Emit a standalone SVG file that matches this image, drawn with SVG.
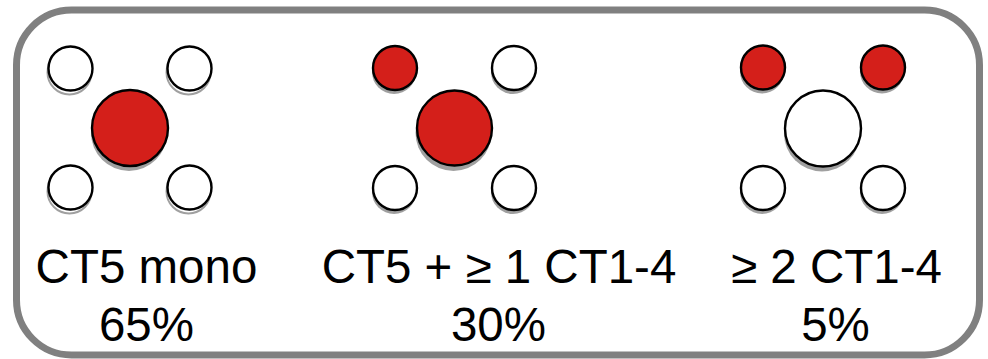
<svg xmlns="http://www.w3.org/2000/svg" width="988" height="359" viewBox="0 0 988 359">
<style>
.frame{fill:#fff;stroke:#808080;stroke-width:7}
.sh{fill:#a0a0a0}
.shr{fill:none;stroke:#a0a0a0;stroke-width:2}
.c{stroke:#000;stroke-width:2.4}
.r{fill:#d41f1a}
.w{fill:#fff}
.t{font-family:"Liberation Sans",Arial,sans-serif;font-size:47.5px;fill:#000;text-anchor:middle}
</style>
<defs>
<g id="sm"><circle class="sh" cx="-1" cy="4" r="22"/></g>
<g id="smr"><circle class="shr" cx="-1" cy="4" r="22"/></g>
<g id="bg"><circle class="sh" cx="-1" cy="5" r="38"/></g>
</defs>
<rect width="988" height="359" fill="#fff"/>
<rect class="frame" x="16.5" y="10" width="963" height="345" rx="55" ry="55"/>
<g id="group1">
<use href="#smr" x="70.5" y="68.5"/><circle class="c w" cx="70.5" cy="68.5" r="22"/>
<use href="#smr" x="189.5" y="68.5"/><circle class="c w" cx="189.5" cy="68.5" r="22"/>
<use href="#smr" x="70.5" y="187.5"/><circle class="c w" cx="70.5" cy="187.5" r="22"/>
<use href="#smr" x="189.5" y="187.5"/><circle class="c w" cx="189.5" cy="187.5" r="22"/>
<use href="#bg" x="130" y="128"/><circle class="c r" cx="130" cy="128" r="38"/>
<text class="t" x="146.5" y="283">CT5 mono</text>
<text class="t" x="146.5" y="341">65%</text>
</g>
<g id="group2">
<use href="#sm" x="395" y="68"/><circle class="c r" cx="395" cy="68" r="22"/>
<use href="#sm" x="514" y="68"/><circle class="c w" cx="514" cy="68" r="22"/>
<use href="#sm" x="395" y="188"/><circle class="c w" cx="395" cy="188" r="22"/>
<use href="#sm" x="514" y="188"/><circle class="c w" cx="514" cy="188" r="22"/>
<use href="#bg" x="454.5" y="128"/><circle class="c r" cx="454.5" cy="128" r="37.5"/>
<text class="t" x="499" y="283">CT5 + ≥ 1 CT1-4</text>
<text class="t" x="498.5" y="341">30%</text>
</g>
<g id="group3">
<use href="#sm" x="763" y="67.5"/><circle class="c r" cx="763" cy="67.5" r="22"/>
<use href="#sm" x="883" y="67.5"/><circle class="c r" cx="883" cy="67.5" r="22"/>
<use href="#sm" x="763" y="188"/><circle class="c w" cx="763" cy="188" r="22"/>
<use href="#sm" x="883" y="188"/><circle class="c w" cx="883" cy="188" r="22"/>
<use href="#bg" x="823" y="128.5"/><circle class="c w" cx="823" cy="128.5" r="38"/>
<text class="t" x="836.5" y="283">≥ 2 CT1-4</text>
<text class="t" x="835.5" y="341">5%</text>
</g>
<g id="connectors"/>
</svg>
